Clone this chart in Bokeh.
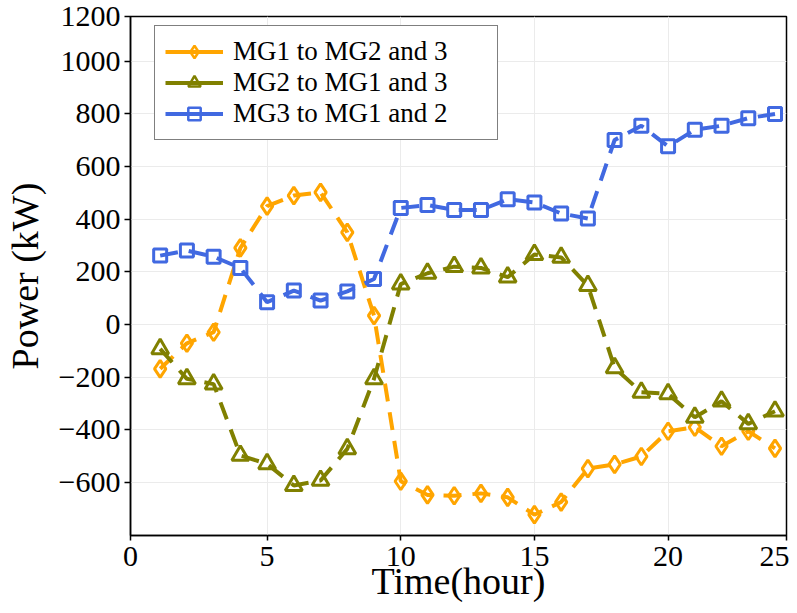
from bokeh.plotting import figure
from bokeh.models import Range1d, FixedTicker, Legend, LegendItem, ColumnDataSource
from bokeh.embed import file_html
from bokeh.resources import INLINE

# ---- data ----
hours = list(range(1, 25))
mg1_to_mg23 = [-168, -71, -29, 291, 450, 490, 502, 350, 34, -595, -647, -650, -641, -656,
               -722, -674, -547, -531, -501, -405, -390, -462, -405, -470]
mg2_to_mg13 = [-92, -206, -226, -497, -529, -611, -592, -472, -206, 154, 195, 220, 215, 180,
               266, 255, 148, -164, -257, -263, -352, -291, -377, -329]
mg3_to_mg12 = [262, 281, 258, 215, 85, 129, 91, 126, 173, 443, 454, 435, 435, 476,
               464, 422, 403, 701, 755, 677, 740, 755, 784, 800]
series_names = ["MG1 to MG2 and 3", "MG2 to MG1 and 3", "MG3 to MG1 and 2"]
x_title = "Time(hour)"
y_title = "Power (kW)"

# axis ranges / ticks (edge ticks sit on the frame border, as in the reference)
X_START, X_END = -0.11, 24.43
Y_START, Y_END = -801, 1170
x_ticks = [X_START, 5, 10, 15, 20, X_END]
x_labels = {X_START: "0", X_END: "25"}
y_ticks = [-600, -400, -200, 0, 200, 400, 600, 800, 1000, Y_END]
y_labels = {-600: "\u2212600", -400: "\u2212400", -200: "\u2212200", Y_END: "1200"}

FONT = "Liberation Serif"

p = figure(width=789, height=605,
           x_range=Range1d(X_START, X_END), y_range=Range1d(Y_START, Y_END),
           output_backend="svg", toolbar_location=None,
           min_border_left=130, min_border_right=3, min_border_top=16, min_border_bottom=70,
           x_axis_label=x_title, y_axis_label=y_title)
p.title.visible = False
p.background_fill_color = "white"
p.border_fill_color = "white"
p.outline_line_color = "black"
p.outline_line_width = 1.5
p.outline_line_alpha = 1.0

p.xaxis.ticker = FixedTicker(ticks=x_ticks)
p.yaxis.ticker = FixedTicker(ticks=y_ticks)
p.xaxis.major_label_overrides = x_labels
p.yaxis.major_label_overrides = y_labels

for ax in (p.xaxis[0], p.yaxis[0]):
    ax.axis_line_color = "black"
    ax.axis_line_width = 1.5
    ax.major_tick_line_color = "black"
    ax.major_tick_line_width = 1.5
    ax.major_tick_out = 6
    ax.major_tick_in = 0
    ax.minor_tick_out = 0
    ax.minor_tick_in = 0
    ax.major_label_text_font = FONT
    ax.major_label_text_font_size = "30px"
    ax.major_label_text_color = "black"
    ax.major_label_text_line_height = 1.0
    ax.axis_label_text_font = FONT
    ax.axis_label_text_font_size = "38px"
    ax.axis_label_text_font_style = "normal"
    ax.axis_label_text_color = "black"
    ax.axis_label_text_line_height = 1.0

p.xaxis.major_tick_out = 5
p.xaxis.major_label_standoff = 6
p.yaxis.major_label_standoff = 4
p.xaxis.axis_label_standoff = -9
p.yaxis.axis_label_standoff = 10

p.xgrid.grid_line_color = "#ebebeb"
p.ygrid.grid_line_color = "#ebebeb"
p.xgrid.grid_line_width = 1
p.ygrid.grid_line_width = 1

styles = [
    (mg1_to_mg23, "#FFA500", "diamond", 17, 12),
    (mg2_to_mg13, "#808000", "triangle", 17, 11),
    (mg3_to_mg12, "#4169E1", "square", 13, 9),
]

items = []
for (ys, color, marker, msize, lsize), name in zip(styles, series_names):
    src = ColumnDataSource(dict(x=hours, y=ys))
    p.scatter("x", "y", source=src, marker=marker, size=msize, line_color=color,
              fill_color="white", line_width=3)
    p.line("x", "y", source=src, line_color=color, line_width=4, line_dash="18 11")
    # hidden legend proxies: solid line with a small marker, as in the reference legend
    lg_mark = p.scatter("x", "y", source=src, marker=marker, size=lsize,
                        line_color=color, fill_color="white", line_width=2.5, visible=False)
    lg_line = p.line("x", "y", source=src, line_color=color, line_width=4, visible=False)
    items.append(LegendItem(label=name, renderers=[lg_mark, lg_line]))

legend = Legend(items=items, location=(24, 395))
legend.label_text_font = FONT
legend.label_text_font_size = "27px"
legend.label_text_color = "black"
legend.label_height = 31
legend.glyph_height = 31
legend.glyph_width = 58
legend.label_standoff = 10
legend.label_width = 254
legend.padding = 10
legend.spacing = 0
legend.margin = 0
legend.border_line_color = "black"
legend.border_line_width = 1.5
legend.background_fill_color = "white"
legend.background_fill_alpha = 1.0
legend.inactive_fill_alpha = 0.0
p.add_layout(legend)

open("out.html", "w").write(file_html(p, INLINE))
